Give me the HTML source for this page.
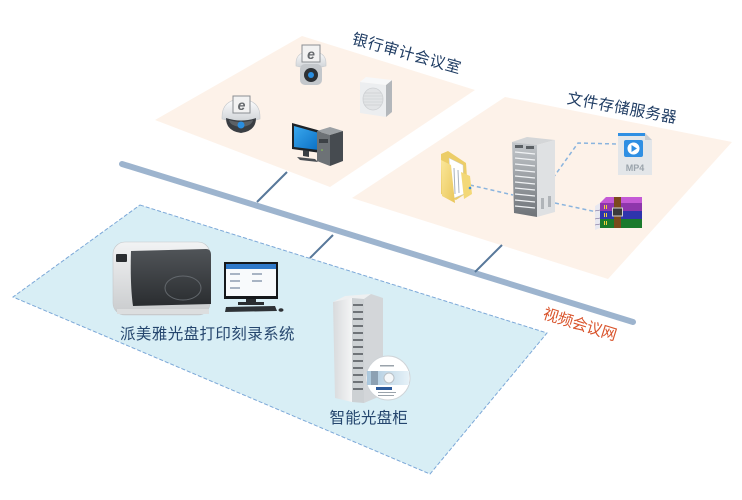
<!DOCTYPE html>
<html><head><meta charset="utf-8"><style>
html,body{margin:0;padding:0;background:#fff;width:742px;height:500px;overflow:hidden}
svg{display:block}
text{font-family:"Liberation Sans","Noto Sans CJK SC",sans-serif}
.lbl{font-family:"Liberation Sans","Noto Sans CJK SC",sans-serif;font-size:15.5px;fill:#1f3c63}
</style></head><body>
<svg width="742" height="500" viewBox="0 0 742 500" xmlns="http://www.w3.org/2000/svg">
<defs>
<linearGradient id="gw" x1="0" y1="0" x2="0" y2="1"><stop offset="0" stop-color="#ffffff"/><stop offset="1" stop-color="#cfd3d7"/></linearGradient>
<linearGradient id="gscr" x1="0" y1="0" x2="1" y2="1"><stop offset="0" stop-color="#3aa8ee"/><stop offset="1" stop-color="#0a6fc4"/></linearGradient>
<linearGradient id="gsrv" x1="0" y1="0" x2="0" y2="1"><stop offset="0" stop-color="#c4c8cc"/><stop offset="1" stop-color="#6e7378"/></linearGradient>
<linearGradient id="gdisc" x1="0" y1="0" x2="1" y2="0"><stop offset="0" stop-color="#a9c6dc"/><stop offset="1" stop-color="#e6f2f8"/></linearGradient>
<linearGradient id="gpr" x1="0" y1="0" x2="0" y2="1"><stop offset="0" stop-color="#f2f3f4"/><stop offset="1" stop-color="#c9cbcd"/></linearGradient>
<linearGradient id="gcab" x1="0" y1="0" x2="1" y2="0"><stop offset="0" stop-color="#d8dadc"/><stop offset="1" stop-color="#f4f5f6"/></linearGradient>
<linearGradient id="gfold" x1="0" y1="0" x2="1" y2="1"><stop offset="0" stop-color="#fbe79a"/><stop offset="1" stop-color="#e9c65a"/></linearGradient>
<linearGradient id="gwin" x1="0" y1="0" x2="0" y2="1"><stop offset="0" stop-color="#505458"/><stop offset="1" stop-color="#2a2d30"/></linearGradient>
</defs>

<!-- areas -->
<polygon points="155,120 302,36 475,90 330,187" fill="#fdf2e9"/>
<polygon points="352,198 505,97 732,142 608,279" fill="#fdf2e9"/>
<polygon points="140,205 547,333 430,474 13,297" fill="#d8eef5" stroke="#7ca8d8" stroke-width="1" stroke-dasharray="4,2"/>

<!-- bus -->
<line x1="122" y1="164" x2="633" y2="322" stroke="#9db4ce" stroke-width="6" stroke-linecap="round"/>
<line x1="287" y1="172" x2="257" y2="202" stroke="#58789a" stroke-width="2"/>
<line x1="333" y1="235" x2="310" y2="258" stroke="#58789a" stroke-width="2"/>
<line x1="502" y1="245" x2="475" y2="272" stroke="#58789a" stroke-width="2"/>

<!-- dashed links -->
<g stroke="#8ab4de" stroke-width="1.5" stroke-dasharray="4,3" fill="none">
<polyline points="470,185 513,195"/>
<polyline points="553,178 578,143 617,144"/>
<polyline points="555,203 597,212"/>
</g>

<!-- dome camera -->
<g>
<path d="M222,117 Q222,100 241,99 Q260,100 260,117 L260,119 Q241,124 222,119Z" fill="url(#gw)" stroke="#c4c8cc" stroke-width="0.6"/>
<path d="M226,118 Q241,123 256,118 Q256,131 241,133 Q226,131 226,118Z" fill="#3a3e43"/>
<path d="M229,120 Q241,124 253,120 Q252,126 241,127 Q230,126 229,120Z" fill="#5c6166"/>
<circle cx="241" cy="125" r="3.5" fill="#2a8ee0"/>
<rect x="233" y="96" width="17" height="17" fill="#f2f2f2" stroke="#8a8e92" stroke-width="1"/>
<text x="241.5" y="110" font-size="14" font-weight="bold" font-style="italic" fill="#666a6e" text-anchor="middle">e</text>
</g>

<!-- ptz camera -->
<g>
<path d="M296,63 Q296,52 311,51 Q326,52 326,63 L326,66 Q311,70 296,66Z" fill="url(#gw)" stroke="#c4c8cc" stroke-width="0.6"/>
<rect x="300" y="64" width="22" height="21" rx="5" fill="#c3c7cb"/>
<circle cx="311" cy="75" r="7" fill="#2c3034"/>
<circle cx="311" cy="75" r="3" fill="#2a8ee0"/>
<rect x="302" y="45" width="18" height="17" fill="#f2f2f2" stroke="#8a8e92" stroke-width="1"/>
<text x="311" y="59" font-size="14" font-weight="bold" font-style="italic" fill="#666a6e" text-anchor="middle">e</text>
</g>

<!-- speaker -->
<g>
<polygon points="360,82 386,85 386,117 360,113" fill="#eceef0"/>
<polygon points="386,85 392,80 392,112 386,117" fill="#b3b7bb"/>
<polygon points="360,82 366,77 392,80 386,85" fill="#f7f8f9"/>
<ellipse cx="373" cy="99" rx="10" ry="11" fill="#e2e4e6" stroke="#cdd0d3" stroke-width="0.8"/>
<g stroke="#c6c9cc" stroke-width="0.6">
<line x1="365" y1="93" x2="381" y2="93"/><line x1="364" y1="96" x2="382" y2="96"/><line x1="363" y1="99" x2="383" y2="99"/><line x1="364" y1="102" x2="382" y2="102"/><line x1="365" y1="105" x2="381" y2="105"/>
</g>
</g>

<!-- PC -->
<g>
<polygon points="292,123 321,131 321,153 292,149" fill="#1e2327"/>
<polygon points="294,126 319,133 319,150 294,147" fill="url(#gscr)"/>
<polygon points="303,150 309,151 309,157 303,156" fill="#3a3f44"/>
<polygon points="297,157 315,159 318,162 300,160" fill="#4a4f54"/>
<polygon points="317,131 330,127 343,131 330,135" fill="#9ba0a4"/>
<polygon points="317,131 330,135 330,166 317,161" fill="#6d7276"/>
<polygon points="330,135 343,131 343,161 330,166" fill="#464b50"/>
<rect x="319" y="139" width="9" height="4" fill="#3d4246"/>
<circle cx="322" cy="150" r="0.8" fill="#8fd14f"/>
</g>

<!-- folder -->
<g>
<polygon points="441,154 448,151 457,157 466,163 468,192 456,200 441,194" fill="#eccd68"/>
<polygon points="449,158 463,165 464,194 452,199" fill="#ffffff" stroke="#c9cdd2" stroke-width="0.5"/>
<line x1="454" y1="168" x2="455" y2="194" stroke="#a8b2be" stroke-width="1"/>
<line x1="458" y1="170" x2="459" y2="193" stroke="#a8b2be" stroke-width="1"/>
<polygon points="441,160 451,165 455,203 442,196" fill="url(#gfold)"/>
<polygon points="461,172 470,176 472,194 464,199" fill="#f3d877"/>
<circle cx="470" cy="188" r="1.3" fill="#3a8ede"/>
</g>

<!-- server -->
<g>
<polygon points="512,142 527,137 555,140 537,145" fill="#d4d6d8"/>
<polygon points="512,142 537,145 537,217 514,213" fill="url(#gsrv)"/>
<g stroke="#f0f2f4" stroke-width="1.2">
<line x1="515" y1="152" x2="535" y2="154"/><line x1="515" y1="158" x2="535" y2="160"/><line x1="515" y1="164" x2="535" y2="166"/><line x1="515" y1="170" x2="535" y2="172"/><line x1="515" y1="176" x2="535" y2="178"/><line x1="515" y1="182" x2="535" y2="184"/><line x1="515" y1="188" x2="535" y2="190"/><line x1="515" y1="194" x2="535" y2="196"/><line x1="515" y1="200" x2="535" y2="202"/><line x1="515" y1="206" x2="535" y2="208"/>
</g>
<rect x="515" y="145" width="8" height="3" fill="#5b6065"/><rect x="526" y="146" width="8" height="3" fill="#5b6065"/>
<polygon points="537,145 555,140 555,212 537,217" fill="#dfe1e3"/>
<rect x="541" y="198" width="3" height="11" fill="#b0b4b8"/><rect x="548" y="196" width="3" height="11" fill="#b0b4b8"/>
</g>

<!-- mp4 -->
<g>
<path d="M618,133 L645,133 L652,140 L652,175 L618,175Z" fill="#e3e6e9"/>
<rect x="618" y="133" width="27" height="3" fill="#2f8fe3"/>
<polygon points="645,133 652,140 645,140" fill="#c9ced3"/>
<rect x="624" y="140" width="19" height="17" rx="2" fill="#2f8fe3"/>
<circle cx="633.5" cy="148.5" r="6" fill="#fff"/>
<polygon points="631.5,145 631.5,152 637,148.5" fill="#2f8fe3"/>
<text x="635" y="171" font-size="9" font-weight="bold" fill="#9aa3ab" text-anchor="middle">MP4</text>
</g>

<!-- rar -->
<g>
<polygon points="600,203 606,197 642,197 642,203" fill="#c45ad6"/>
<rect x="600" y="203" width="42" height="8" fill="#8e36ac"/>
<rect x="600" y="211" width="42" height="8" fill="#2f34ad"/>
<rect x="600" y="219" width="42" height="9" fill="#1a7a2c"/>
<polygon points="595,206 600,203 600,228 595,230" fill="#e8e8f0"/>
<g stroke="#6a5a8a" stroke-width="0.6"><line x1="595" y1="211" x2="600" y2="210"/><line x1="595" y1="219" x2="600" y2="218"/><line x1="595" y1="225" x2="600" y2="224"/></g>
<rect x="614" y="197" width="7" height="31" fill="#7a4a1c"/>
<rect x="612.5" y="208" width="10" height="8" fill="#3a3a3a" stroke="#d0d0d0" stroke-width="1"/>
<g fill="#f2d33a"><rect x="604" y="205" width="1" height="4"/><rect x="606" y="205" width="1" height="4"/><rect x="604" y="213" width="1" height="4"/><rect x="606" y="213" width="1" height="4"/><rect x="604" y="221" width="1" height="4"/><rect x="606" y="221" width="1" height="4"/></g>
</g>

<!-- printer -->
<g>
<rect x="113" y="242" width="97" height="73" rx="12" fill="url(#gpr)" stroke="#c5c7c9" stroke-width="0.6"/>
<path d="M131,251 L206,249 Q211,249 211,255 L211,304 L133,306 Q130,285 131,251Z" fill="url(#gwin)"/>
<ellipse cx="183" cy="288" rx="18" ry="12" fill="none" stroke="#63686d" stroke-width="1"/>
<rect x="116" y="254" width="11" height="8" rx="1" fill="#2a2d30"/>
<rect x="117" y="309" width="92" height="5" fill="#dcdedf"/>
</g>

<!-- monitor -->
<g>
<rect x="224" y="262" width="54" height="37" fill="#15181b"/>
<rect x="226" y="264" width="50" height="32" fill="#f8fafc"/>
<rect x="226" y="264" width="50" height="5" fill="#2f79c9"/>
<g fill="#a8b4c4"><rect x="230" y="273" width="10" height="2"/><rect x="252" y="273" width="10" height="2"/><rect x="230" y="280" width="10" height="2"/><rect x="252" y="280" width="10" height="2"/><rect x="230" y="287" width="10" height="2"/></g>
<rect x="246" y="299" width="10" height="4" fill="#2a2d30"/>
<rect x="238" y="302" width="26" height="3" fill="#2a2d30"/>
<polygon points="226,307 275,306 277,311 225,312" fill="#2e3236"/>
<ellipse cx="281" cy="310" rx="2.5" ry="1.8" fill="#2e3236"/>
</g>

<!-- cabinet -->
<g>
<polygon points="333,302 345,296 371,294 364,299" fill="#eef0f1"/>
<polygon points="333,302 352,298 352,402 335,398" fill="url(#gcab)"/>
<polygon points="352,298 364,299 364,403 352,402" fill="#cdd1d4"/>
<g stroke="#3c4146" stroke-width="1.3">
<line x1="353" y1="305" x2="363" y2="305"/><line x1="353" y1="312" x2="363" y2="312"/><line x1="353" y1="319" x2="363" y2="319"/><line x1="353" y1="326" x2="363" y2="326"/><line x1="353" y1="333" x2="363" y2="333"/><line x1="353" y1="340" x2="363" y2="340"/><line x1="353" y1="347" x2="363" y2="347"/><line x1="353" y1="354" x2="363" y2="354"/><line x1="353" y1="361" x2="363" y2="361"/><line x1="353" y1="368" x2="363" y2="368"/><line x1="353" y1="375" x2="363" y2="375"/><line x1="353" y1="382" x2="363" y2="382"/><line x1="353" y1="389" x2="363" y2="389"/>
</g>
<polygon points="364,299 371,294 383,298 383,395 364,403" fill="#d3d6d9"/>
</g>
<g>
<circle cx="388" cy="378" r="22" fill="#ffffff" stroke="#cfd4d8" stroke-width="1"/>
<path d="M367,371 L409,371 L409,385 L367,385Z" fill="url(#gdisc)"/>
<rect x="371" y="371" width="7" height="14" fill="#8da1b3"/>
<circle cx="389" cy="378" r="5" fill="#f6f8fa" stroke="#b9c0c6" stroke-width="1"/>
<rect x="376" y="387" width="16" height="3" fill="#2c5a9a"/>
<g fill="#9aa3ab"><rect x="378" y="392" width="18" height="1"/><rect x="378" y="395" width="16" height="1"/><rect x="380" y="365" width="14" height="1.5"/></g>
</g>

<!-- labels -->
<text class="lbl" transform="translate(360,40) rotate(15.6)"><tspan x="-7.7 8.4 24.5 40.6 56.7 72.8 88.9" y="5.6">银行审计会议室</tspan></text>
<text class="lbl" transform="translate(575,99) rotate(10.3)"><tspan x="-7.7 8.2 24.1 40 55.9 71.8 87.7" y="5.6">文件存储服务器</tspan></text>
<text class="lbl" style="fill:#d9542c" transform="translate(551,315) rotate(17.2)"><tspan x="-7.7 7.5 22.7 37.9 53.1" y="5.6">视频会议网</tspan></text>
<text class="lbl" style="fill:#25466e"><tspan x="120 135.9 151.8 167.7 183.6 199.5 215.4 231.3 247.2 263.1 279" y="339">派美雅光盘打印刻录系统</tspan></text>
<text class="lbl" style="fill:#25466e"><tspan x="329.5 345.2 360.9 376.6 392.3" y="423">智能光盘柜</tspan></text>
</svg>
</body></html>
